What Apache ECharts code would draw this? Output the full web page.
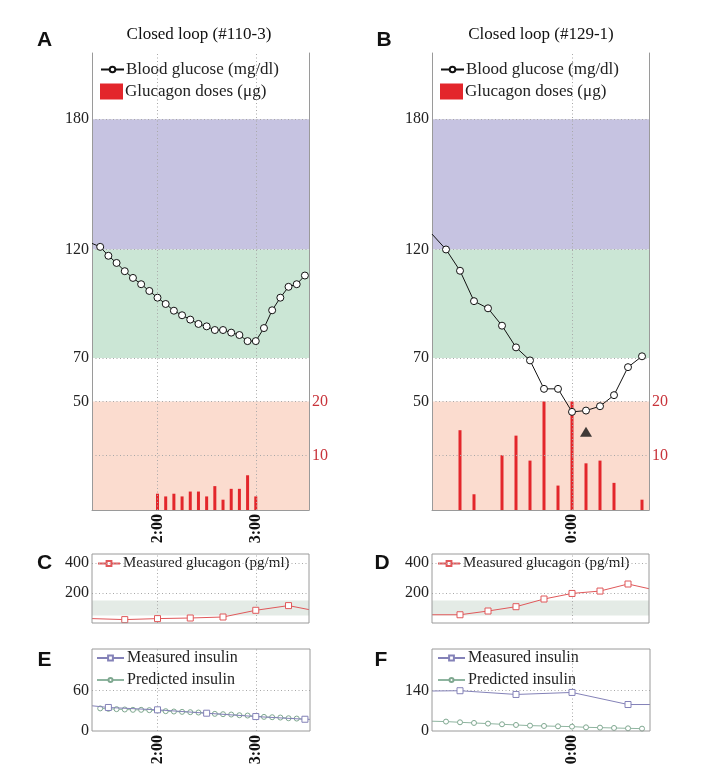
<!DOCTYPE html>
<html><head><meta charset="utf-8">
<script src="https://cdn.jsdelivr.net/npm/echarts@6/dist/echarts.min.js"></script>
<style>html,body{margin:0;padding:0;background:#fff}#c{width:719px;height:781px}</style>
</head><body><div id="c"></div>
<script>
// ---- Panel A (time in minutes after midnight) ----
const glucoseTimesA = [80,85,90,95,100,105,110,115,120,125,130,135,140,145,150,155,160,165,170,175,180,185,190,195,200,205,210];
const glucoseA      = [122.8,121.2,117.1,113.8,110,106.9,104,100.9,97.8,94.9,91.8,89.7,87.7,85.7,84.6,82.9,82.9,81.7,80.6,77.8,77.8,83.8,92,97.8,102.8,104,108];
const doseTimesA    = [120,125,130,135,140,145,150,155,160,165,170,175,180];
const dosesA        = [3.0,2.5,3.0,2.5,3.4,3.4,2.5,4.4,1.9,3.9,3.9,6.4,2.5];
// ---- Panel B (minutes relative to 0:00) ----
const glucoseTimesB = [-100,-90,-80,-70,-60,-50,-40,-30,-20,-10,0,10,20,30,40,50];
const glucoseB      = [127.1,120,110.2,96.2,92.9,84.9,74.9,68.9,55.8,55.8,45.2,45.8,47.8,52.9,65.8,70.8];
const doseTimesB    = [-80,-70,-50,-40,-30,-20,-10,0,10,20,30,50];
const dosesB        = [14.7,2.9,10.1,13.7,9.1,20,4.5,20,8.6,9.1,5.0,1.9];
const alarmB        = [[10,36]];
// ---- Panel C / D: measured glucagon ----
const glucagonTimesC = [80,100,120,140,160,180,200,212.5];
const glucagonC      = [29.3,22.7,29.3,33.3,40,84.7,116,89.3];
const glucagonTimesD = [-100,-80,-60,-40,-20,0,20,40,55];
const glucagonD      = [55,55,80,108.7,160,197,213,260,228.7];
// ---- Panel E / F: insulin ----
const insMeasTimesE = [80,90,120,150,180,210,213.1];
const insMeasE      = [37.5,35,31.5,26.5,21.5,17.5,17.3];
const insPredTimesE = [85,90,95,100,105,110,115,120,125,130,135,140,145,150,155,160,165,170,175,180,185,190,195,200,205,210];
const insPredE      = [33.6,33,32.5,32,31.5,31.5,31,30.5,29.5,29,28.5,28,27.5,26.5,25.5,25,24.5,23.5,23,22,21,20.5,20,19,18.5,17.5];
const insMeasTimesF = [-100,-80,-40,0,40,55.7];
const insMeasF      = [139,140,127,134,92,92];
const insPredTimesF = [-100,-90,-80,-70,-60,-50,-40,-30,-20,-10,0,10,20,30,40,50];
const insPredF      = [34,32.7,30.3,28,25.7,23.3,21,18.7,17.5,16.3,15.2,12.8,11.7,10.5,9.3,8.2];
// ---- tick labels ----
const glucoseTicks = [50,70,120,180];
const doseTicks = [10,20];
const timeLabelsA = {120:'2:00',180:'3:00'};
const timeLabelsB = {0:'0:00'};

const SERIF = '"Liberation Serif","Times New Roman",serif';
const SANS = '"Liberation Sans",Arial,sans-serif';
const GRIDLINE = {type:[1,2.5], color:'#a8a8a8', width:1};
const AXISC = '#9a9a9a';

function pts(ts, vs, min, max){
  return ts.map((t,i)=> (t<=min||t>=max) ? {value:[t,vs[i]], symbol:'none'} : [t,vs[i]]);
}
function pairs(ts, vs){ return ts.map((t,i)=>[t,vs[i]]); }

const xr = {A:[80,212.5], B:[-100,55], E:[80,213.1], F:[-100,55.7]};

function xAxis(grid, r, labels, showLabels, showLine){
  return {type:'value', gridIndex:grid, min:r[0], max:r[1], interval:20, z:5,
    splitLine:{show:false}, axisTick:{show:false},
    axisLine:{show:showLine, onZero:false, lineStyle:{color:AXISC, width:1}},
    axisLabel:{show:showLabels, rotate:90, margin:4, fontFamily:SERIF, fontWeight:'bold', fontSize:16, color:'#111',
      formatter:v=>labels[Math.round(v)]!==undefined && Math.abs(v-Math.round(v))<1e-6 ? labels[Math.round(v)] : ''}};
}
function yAxis(grid, min, max, interval, shown, pos, color, showLine){
  return {type:'value', gridIndex:grid, min:min, max:max, interval:interval, position:pos, z:5,
    splitLine:{show:false}, axisTick:{show:false},
    axisLine:{show:showLine, onZero:false, lineStyle:{color:AXISC, width:1}},
    axisLabel:{margin:3, fontFamily:SERIF, fontSize:16, color:color,
      formatter:v=>shown.indexOf(v)>=0 ? String(v) : ''}};
}
function bandSeries(x,y,bands){
  return {type:'line', xAxisIndex:x, yAxisIndex:y, data:[], z:1, silent:true,
    markArea:{silent:true, data:bands.map(b=>[{yAxis:b[0], itemStyle:{color:b[2]}},{yAxis:b[1]}])}};
}
function gridSeries(x,y,h,v){
  return {type:'line', xAxisIndex:x, yAxisIndex:y, data:[], z:2, silent:true,
    markLine:{silent:true, symbol:['none','none'], label:{show:false}, lineStyle:GRIDLINE, animation:false,
      data:[...h.map(a=>({yAxis:a})), ...v.map(a=>({xAxis:a}))]}};
}

const bandsAB = [[120,180,'#c6c3e1'],[70,120,'#cbe6d5'],[0,50,'#fbdccf']];
const bandCD = [[50,150,'#e4ebe6']];

const glucoseStyle = (x,y,ts,vs,r)=>({name:'Blood glucose (mg/dl)', type:'line', xAxisIndex:x, yAxisIndex:y, z:6,
  data:pts(ts,vs,r[0],r[1]), symbol:'circle', symbolSize:7,
  lineStyle:{color:'#111', width:1}, itemStyle:{color:'#fff', borderColor:'#111', borderWidth:1}});
const doseStyle = (x,y,ts,vs)=>({name:'Glucagon doses (μg)', type:'bar', xAxisIndex:x, yAxisIndex:y, z:4,
  data:pairs(ts,vs), barWidth:3, itemStyle:{color:'#e3262b'}});
const glucagonStyle = (x,y,ts,vs,r)=>({name:'Measured glucagon (pg/ml)', type:'line', xAxisIndex:x, yAxisIndex:y, z:6,
  data:pts(ts,vs,r[0],r[1]), symbol:'rect', symbolSize:6,
  lineStyle:{color:'#e0585a', width:1}, itemStyle:{color:'#fff', borderColor:'#e0585a', borderWidth:1}});
const insMeasStyle = (x,y,ts,vs,r)=>({name:'Measured insulin', type:'line', xAxisIndex:x, yAxisIndex:y, z:7,
  data:pts(ts,vs,r[0],r[1]), symbol:'rect', symbolSize:6,
  lineStyle:{color:'#8482b8', width:1}, itemStyle:{color:'#fff', borderColor:'#8482b8', borderWidth:1}});
const insPredStyle = (x,y,ts,vs,r)=>({name:'Predicted insulin', type:'line', xAxisIndex:x, yAxisIndex:y, z:6,
  data:pts(ts,vs,r[0],r[1]), symbol:'circle', symbolSize:5,
  lineStyle:{color:'#8fb5a0', width:1}, itemStyle:{color:'#fff', borderColor:'#7fa890', borderWidth:1}});

function leg(name, left, top, w, h, icon, fs, pad){
  const l = {data:[name], left:left, top:top, padding:0, itemWidth:w, itemHeight:h, itemGap:0,
    selectedMode:false, textStyle:{fontFamily:SERIF, fontSize:fs, color:'#222', padding:[0,0,0,pad]}};
  if(icon) l.icon = icon;
  return l;
}
function txt(s, x, y, font, weight){
  return {type:'text', x:x, y:y, silent:true,
    style:{text:s, align:'center', verticalAlign:'middle', textAlign:'center', textVerticalAlign:'middle',
      fontFamily:font, fontSize: weight ? 21 : 17, fontWeight: weight ? 'bold' : 'normal', fill:'#111'}};
}

const option = {
  animation:false,
  backgroundColor:'#fff',
  grid:[
    {left:92, top:53, width:217, height:457},
    {left:432, top:53, width:217, height:457},
    {left:92, top:554, width:217, height:69, show:true, borderColor:AXISC, borderWidth:1, z:10, backgroundColor:'transparent'},
    {left:432, top:554, width:217, height:69, show:true, borderColor:AXISC, borderWidth:1, z:10, backgroundColor:'transparent'},
    {left:92, top:649, width:218, height:82, show:true, borderColor:AXISC, borderWidth:1, z:10, backgroundColor:'transparent'},
    {left:432, top:649, width:218, height:82, show:true, borderColor:AXISC, borderWidth:1, z:10, backgroundColor:'transparent'}
  ],
  xAxis:[
    xAxis(0, xr.A, timeLabelsA, true, true),
    xAxis(1, xr.B, timeLabelsB, true, true),
    xAxis(2, xr.A, timeLabelsA, false, false),
    xAxis(3, xr.B, timeLabelsB, false, false),
    xAxis(4, xr.E, timeLabelsA, true, false),
    xAxis(5, xr.F, timeLabelsB, true, false)
  ],
  yAxis:[
    yAxis(0, 0, 210.5, 10, glucoseTicks, 'left', '#222', true),
    yAxis(0, 0, 84.2, 10, doseTicks, 'right', '#c8333a', true),
    yAxis(1, 0, 210.5, 10, glucoseTicks, 'left', '#222', true),
    yAxis(1, 0, 84.2, 10, doseTicks, 'right', '#c8333a', true),
    yAxis(2, 0, 460, 200, [200,400], 'left', '#222', false),
    yAxis(3, 0, 460, 200, [200,400], 'left', '#222', false),
    yAxis(4, 0, 122, 60, [0,60], 'left', '#222', false),
    yAxis(5, 0, 285, 140, [0,140], 'left', '#222', false)
  ],
  legend:[
    leg('Blood glucose (mg/dl)', 100, 61, 23, 7, null, 17, -3),
    leg('Glucagon doses (μg)', 100, 83, 23, 16, 'rect', 17, -3),
    leg('Blood glucose (mg/dl)', 440, 61, 23, 7, null, 17, -3),
    leg('Glucagon doses (μg)', 440, 83, 23, 16, 'rect', 17, -3),
    leg('Measured glucagon (pg/ml)', 97, 556, 22, 6, null, 15, -2),
    leg('Measured glucagon (pg/ml)', 437, 556, 22, 6, null, 15, -2),
    leg('Measured insulin', 96, 650, 27, 6, null, 16, -2),
    leg('Predicted insulin', 96, 672, 27, 5, null, 16, -2),
    leg('Measured insulin', 437, 650, 27, 6, null, 16, -2),
    leg('Predicted insulin', 437, 672, 27, 5, null, 16, -2)
  ],
  graphic:[
    txt('Closed loop (#110-3)', 199, 35, SERIF),
    txt('Closed loop (#129-1)', 541, 35, SERIF),
    txt('A', 44.5, 40, SANS, true),
    txt('B', 384, 40, SANS, true),
    txt('C', 44.5, 563, SANS, true),
    txt('D', 382, 563, SANS, true),
    txt('E', 44.5, 660, SANS, true),
    txt('F', 381, 660, SANS, true)
  ],
  series:[
    bandSeries(0,0,bandsAB),
    gridSeries(0,0,[180,120,70,50,25],[120,180]),
    doseStyle(0,1,doseTimesA,dosesA),
    glucoseStyle(0,0,glucoseTimesA,glucoseA,xr.A),

    bandSeries(1,2,bandsAB),
    gridSeries(1,2,[180,120,70,50,25],[0]),
    doseStyle(1,3,doseTimesB,dosesB),
    glucoseStyle(1,2,glucoseTimesB,glucoseB,xr.B),
    {type:'scatter', xAxisIndex:1, yAxisIndex:2, z:7, data:alarmB, symbol:'triangle', symbolSize:[12,10], itemStyle:{color:'#111'}},

    bandSeries(2,4,bandCD),
    gridSeries(2,4,[200,400],[120,180]),
    glucagonStyle(2,4,glucagonTimesC,glucagonC,xr.A),

    bandSeries(3,5,bandCD),
    gridSeries(3,5,[200,400],[0]),
    glucagonStyle(3,5,glucagonTimesD,glucagonD,xr.B),

    gridSeries(4,6,[60],[120,180]),
    insPredStyle(4,6,insPredTimesE,insPredE,xr.E),
    insMeasStyle(4,6,insMeasTimesE,insMeasE,xr.E),

    gridSeries(5,7,[140],[0]),
    insPredStyle(5,7,insPredTimesF,insPredF,xr.F),
    insMeasStyle(5,7,insMeasTimesF,insMeasF,xr.F)
  ]
};
const chart = echarts.init(document.getElementById('c'), null, {renderer:'canvas'});
chart.setOption(option);
</script>
</body></html>
